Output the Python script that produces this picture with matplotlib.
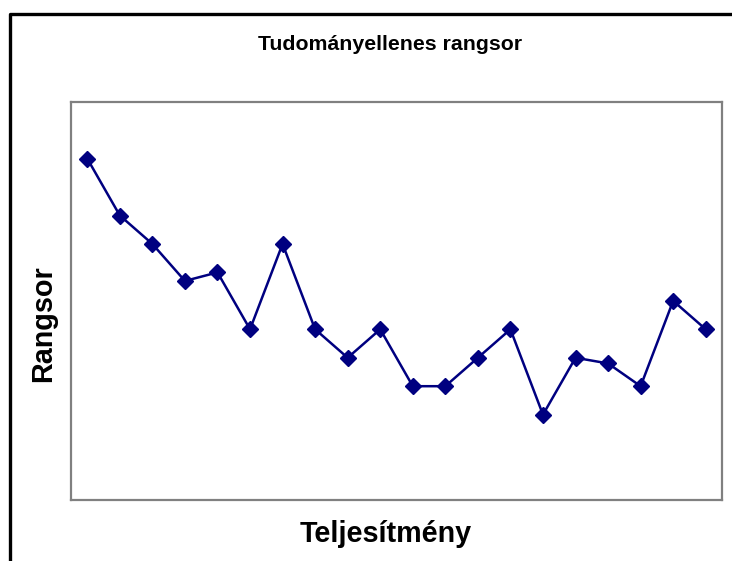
import matplotlib
matplotlib.use("Agg")
import matplotlib.pyplot as plt
from matplotlib.lines import Line2D
import numpy as np

plt.rcParams['font.family'] = ['Liberation Sans', 'DejaVu Sans']

title = "Tudományellenes rangsor"
xlabel = "Teljesítmény"
ylabel = "Rangsor"
positions = list(range(1, 21))
values = [12, 10, 9, 7.7, 8, 6, 9, 6, 5, 6, 4, 4, 5, 6, 3, 5, 4.8, 4, 7, 6]

W, H = 732, 561
fig = plt.figure(figsize=(W / 100, H / 100), dpi=100)

ax = fig.add_axes([71 / W, (H - 500) / H, (722 - 71) / W, (500 - 101.7) / H])
x = np.array(positions) - 0.5
ax.plot(x, values, color='#000080', linewidth=1.8, marker='D', markersize=8.5,
        markerfacecolor='#000080', markeredgecolor='#000080')
ax.set_xlim(0, 20)
ax.set_ylim(0, 14)
ax.set_xticks([])
ax.set_yticks([])
for s in ax.spines.values():
    s.set_color('#808080')
    s.set_linewidth(1.6)

fig.text(390 / W, (H - 50) / H, title, ha='center', va='baseline',
         fontsize=15.3, fontweight='bold')
fig.text(386 / W, (H - 541.7) / H, xlabel, ha='center', va='baseline',
         fontsize=20.7, fontweight='bold')
fig.text(43 / W, (H - 323.3) / H, ylabel, ha='center', va='center',
         rotation=90, fontsize=20.7, fontweight='bold')

# outer chart-area border (only top and left visible)
fig.add_artist(Line2D([9.5 / W, 9.5 / W, 1.0], [0.0, (H - 14) / H, (H - 14) / H],
                      transform=fig.transFigure, color='black', linewidth=2.4))

fig.savefig('out.png', dpi=100)
